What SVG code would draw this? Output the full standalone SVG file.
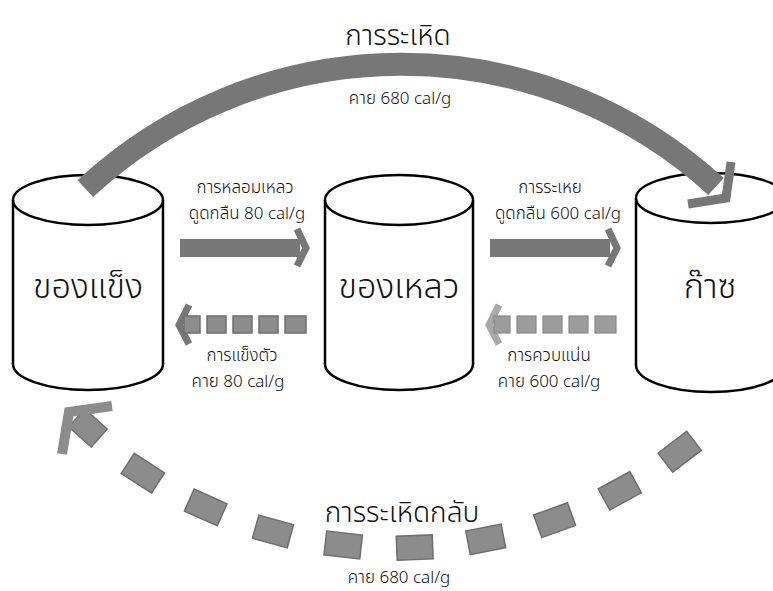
<svg xmlns="http://www.w3.org/2000/svg" width="773" height="591" viewBox="0 0 773 591">
  <style>
    .cyl { fill: #ffffff; stroke: #000000; stroke-width: 2.5; }
    .side { stroke: #000000; stroke-width: 2.5; fill: none; }
    .txt { font-family: "Noto Sans Thai", "Noto Sans", "DejaVu Sans", sans-serif; font-weight: 300; fill: #111111; text-anchor: middle; }
    .big { font-size: 34px; }
    .title { font-size: 28px; }
    .small { font-size: 17px; }
    .shaft { fill: #777777; }
    .band { fill: none; stroke: #777777; stroke-width: 23; }
    .head { fill: none; stroke: #777777; stroke-width: 9; stroke-linejoin: miter; }
    .thin { fill: none; stroke: #777777; stroke-width: 7; stroke-linejoin: miter; }
    .blk { fill: #8c8c8c; stroke: #6e6e6e; stroke-width: 1.5; }
    .blk2 { fill: #9c9c9c; stroke: #8a8a8a; stroke-width: 1.2; }
    .lighthead { fill: none; stroke: #a8a8a8; stroke-width: 7; }
  </style>

  <rect x="0" y="0" width="773" height="591" fill="#ffffff"/>

  <!-- solid phase -->
  <g id="solid">
    <ellipse class="cyl" cx="88" cy="364" rx="75" ry="26"/>
    <rect x="13" y="200" width="150" height="164" fill="#ffffff"/>
    <line class="side" x1="13" y1="200" x2="13" y2="364"/>
    <line class="side" x1="163" y1="200" x2="163" y2="364"/>
    <ellipse class="cyl" cx="88" cy="200" rx="75" ry="25"/>
    <text class="txt big" x="88" y="298">ของแข็ง</text>
  </g>

  <!-- liquid phase -->
  <g id="liquid">
    <ellipse class="cyl" cx="399" cy="364" rx="74" ry="26"/>
    <rect x="325" y="200" width="148" height="164" fill="#ffffff"/>
    <line class="side" x1="325" y1="200" x2="325" y2="364"/>
    <line class="side" x1="473" y1="200" x2="473" y2="364"/>
    <ellipse class="cyl" cx="399" cy="200" rx="74" ry="25"/>
    <text class="txt big" x="399" y="298">ของเหลว</text>
  </g>

  <!-- gas phase -->
  <g id="gas">
    <ellipse class="cyl" cx="711" cy="365" rx="75" ry="27"/>
    <rect x="636" y="198" width="150" height="167" fill="#ffffff"/>
    <line class="side" x1="636" y1="198" x2="636" y2="365"/>
    <ellipse class="cyl" cx="711" cy="198" rx="75" ry="25"/>
    <text class="txt big" x="710" y="298">ก๊าซ</text>
  </g>

  <g id="connectors">
    <!-- sublimation: solid to gas, over the top -->
    <path class="band" d="M 85.3 188.6 A 465 465 0 0 1 716 186.5"/>
    <polyline class="head" points="688,204 726,198 731,162"/>

    <!-- melting -->
    <rect class="shaft" x="180" y="239" width="120" height="18"/>
    <polyline class="thin" points="297,229 306,248 297,266"/>

    <!-- evaporation -->
    <rect class="shaft" x="490" y="239" width="120" height="18"/>
    <polyline class="thin" points="608,229 617,248 608,266"/>

    <!-- freezing (dashed, leftwards) -->
    <polyline class="thin" points="189,305 179,325 189,344"/>
    <rect class="blk" x="184" y="316" width="16" height="17"/>
    <rect class="blk" x="207" y="316" width="19" height="17"/>
    <rect class="blk" x="233" y="316" width="19" height="17"/>
    <rect class="blk" x="259" y="316" width="19" height="17"/>
    <rect class="blk" x="285" y="316" width="21" height="17"/>

    <!-- condensation (dashed, leftwards) -->
    <polyline class="lighthead" points="499,305 489,325 499,344"/>
    <rect class="blk2" x="494" y="316" width="16" height="17"/>
    <rect class="blk2" x="517" y="316" width="19" height="17"/>
    <rect class="blk2" x="543" y="316" width="19" height="17"/>
    <rect class="blk2" x="569" y="316" width="19" height="17"/>
    <rect class="blk2" x="595" y="316" width="21" height="17"/>

    <!-- deposition: gas to solid, dashed under the bottom -->
    <rect class="blk" x="-18" y="-12" width="36" height="24" transform="translate(679.7 451.7) rotate(-37.5)"/>
    <rect class="blk" x="-18" y="-12" width="36" height="24" transform="translate(619.8 490.8) rotate(-28.7)"/>
    <rect class="blk" x="-18" y="-12" width="36" height="24" transform="translate(554.6 520.2) rotate(-19.9)"/>
    <rect class="blk" x="-18" y="-12" width="36" height="24" transform="translate(485.7 539.3) rotate(-11.1)"/>
    <rect class="blk" x="-18" y="-12" width="36" height="24" transform="translate(414.7 547.6) rotate(-2.3)"/>
    <rect class="blk" x="-18" y="-12" width="36" height="24" transform="translate(343.2 545.0) rotate(6.5)"/>
    <rect class="blk" x="-18" y="-12" width="36" height="24" transform="translate(273.0 531.5) rotate(15.3)"/>
    <rect class="blk" x="-18" y="-12" width="36" height="24" transform="translate(205.7 507.4) rotate(24.1)"/>
    <rect class="blk" x="-18" y="-12" width="36" height="24" transform="translate(142.9 473.2) rotate(32.9)"/>
    <rect class="blk" x="-15" y="-12" width="30" height="24" transform="translate(88 428) rotate(41.7)"/>
    <polyline fill="none" stroke="#8c8c8c" stroke-width="10" points="112,406 69,412 62,454"/>
  </g>

  <!-- process labels -->
  <text class="txt title" x="398" y="45">การระเหิด</text>
  <text class="txt small" x="400" y="104">คาย 680 cal/g</text>

  <text class="txt small" x="245" y="193">การหลอมเหลว</text>
  <text class="txt small" x="247" y="219">ดูดกลืน 80 cal/g</text>
  <text class="txt small" x="550" y="193">การระเหย</text>
  <text class="txt small" x="558" y="219">ดูดกลืน 600 cal/g</text>

  <text class="txt small" x="242" y="361">การแข็งตัว</text>
  <text class="txt small" x="238" y="387">คาย 80 cal/g</text>
  <text class="txt small" x="549" y="361">การควบแน่น</text>
  <text class="txt small" x="549" y="387">คาย 600 cal/g</text>

  <text class="txt title" x="402" y="522">การระเหิดกลับ</text>
  <text class="txt small" x="399" y="583">คาย 680 cal/g</text>
</svg>
